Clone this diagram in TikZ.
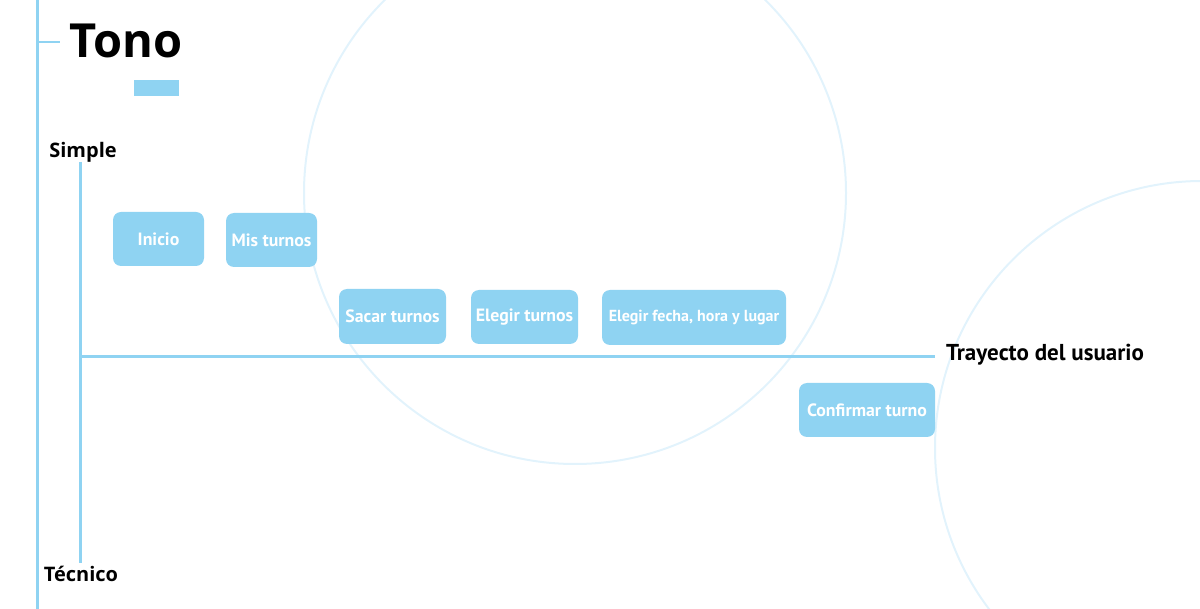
\documentclass[tikz,border=0pt]{standalone}
\usepackage{fontspec}
\setmainfont{Open Sans}
\newfontfamily\boxfont{PT Sans}
\usepackage{tikz}

\definecolor{celeste}{RGB}{143,211,242}
\definecolor{aro}{RGB}{226,243,252}

\tikzset{
  paso/.style={fill=celeste,rounded corners=8pt,inner sep=0pt,text=white,
    font=\boxfont\bfseries\fontsize{17.8}{20}\selectfont},
  eje/.style={celeste,line width=3pt},
  rotulo/.style={font=\bfseries\fontsize{20}{22}\selectfont}
}

\begin{document}
\begin{tikzpicture}[x=1pt,y=-1pt]
\useasboundingbox (0,0) rectangle (1200,609);
\clip (0,0) rectangle (1200,609);
% Background circles
\draw[aro,line width=2pt] (575,193) circle (271);
\draw[aro,line width=2pt] (1202,448) circle (267);
% Title
\draw[celeste,line width=2.5pt] (37.5,0) -- (37.5,609);
\draw[celeste,line width=2pt] (37,42) -- (60,42);
\node[anchor=base west,inner sep=0pt,font=\bfseries\fontsize{47}{50}\selectfont] (tono) at (69,58) {Tono};
\fill[celeste] (134,80) rectangle (179,96);
% Axes
\node[rotulo] (simple) at (83,152) {Simple};
\node[rotulo] (tecnico) at (81,574) {Técnico};
\coordinate (arriba) at (80,162);
\coordinate (abajo) at (80,563);
\coordinate (origen) at (80,357);
\coordinate (fin) at (935,357);
\draw[eje] (arriba) -- (abajo);
\draw[eje] (origen) -- (fin);
\node[anchor=west,inner sep=0pt,font=\boxfont\bfseries\fontsize{23}{25}\selectfont] (trayecto) at (946,355) {Trayecto del usuario};
% Steps
\node[paso,minimum width=91pt,minimum height=54pt] (inicio) at (158.5,239) {Inicio};
\node[paso,minimum width=91pt,minimum height=54pt] (misturnos) at (271.5,240) {Mis turnos};
\node[paso,minimum width=107pt,minimum height=55pt] (sacar) at (392.5,316.5) {Sacar turnos};
\node[paso,minimum width=107pt,minimum height=54pt] (elegir) at (524.5,317) {Elegir turnos};
\node[paso,minimum width=184pt,minimum height=55pt,font=\boxfont\bfseries\fontsize{16}{18}\selectfont] (fecha) at (694,317.5) {Elegir fecha, hora y lugar};
\node[paso,minimum width=136pt,minimum height=54pt] (confirmar) at (867,410) {Confirmar turno};
\end{tikzpicture}
\end{document}
